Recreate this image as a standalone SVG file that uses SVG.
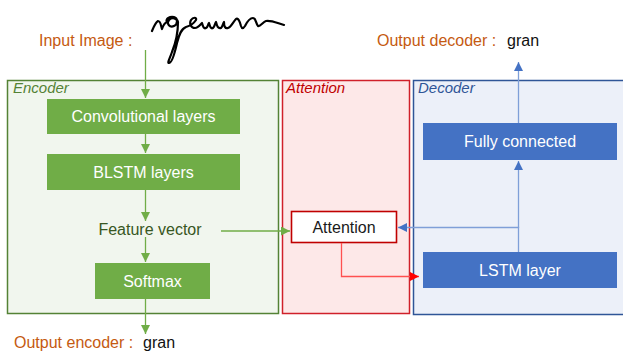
<svg xmlns="http://www.w3.org/2000/svg" width="623" height="358" viewBox="0 0 623 358">
  <defs>
    <style>
      text { font-family: "Liberation Sans", Arial, sans-serif; font-size: 16px; }
      .lbl { fill: #C55A11; }
      .val { fill: #111111; }
      .ttl { font-style: italic; font-size: 15px; }
      .wt { fill: #ffffff; text-anchor: middle; }
      .gbox { fill: #70AD47; }
      .bbox { fill: #4472C4; }
      .gline { stroke: #70AD47; stroke-width: 1.3; fill: none; }
      .bline { stroke: #7F9FD8; stroke-width: 1.3; fill: none; }
      .rline { stroke: #FF5050; stroke-width: 1.3; fill: none; }
    </style>
    <marker id="ag" viewBox="0 0 10 10" refX="10" refY="5" markerWidth="9" markerHeight="9" markerUnits="userSpaceOnUse" orient="auto">
      <path d="M0,0 L10,5 L0,10 z" fill="#70AD47"/>
    </marker>
    <marker id="ab" viewBox="0 0 10 10" refX="10" refY="5" markerWidth="9" markerHeight="9" markerUnits="userSpaceOnUse" orient="auto">
      <path d="M0,0 L10,5 L0,10 z" fill="#4472C4"/>
    </marker>
    <marker id="ar" viewBox="0 0 10 10" refX="10" refY="5" markerWidth="9" markerHeight="9" markerUnits="userSpaceOnUse" orient="auto">
      <path d="M0,0 L10,5 L0,10 z" fill="#FF0000"/>
    </marker>
  </defs>

  <rect width="623" height="358" fill="#ffffff"/>

  <!-- Panels -->
  <g id="encoder">
    <rect x="7.5" y="80.5" width="271" height="233" fill="#F1F6EE" stroke="#548235" stroke-width="1.5"/>
    <text class="ttl" x="13" y="93" fill="#548235">Encoder</text>
  </g>
  <g id="attention-panel">
    <rect x="282.5" y="80.5" width="127" height="233" fill="#FDE8E8" stroke="#D0202A" stroke-width="1.5"/>
    <text class="ttl" x="286" y="93" fill="#C00000">Attention</text>
  </g>
  <g id="decoder">
    <rect x="413.5" y="80.5" width="212" height="234" fill="#ECF0F9" stroke="#2F5597" stroke-width="1.5"/>
    <text class="ttl" x="418" y="93" fill="#2F5597">Decoder</text>
  </g>

  <!-- Input / output labels -->
  <g id="input-image">
    <text class="lbl" x="39" y="46">Input Image :</text>
    <!-- handwritten sample word -->
    <path d="M152,31 C154,26 156,22 158,21 C161,21 161,27 162,29 C163,26 164,23 167,22
             C165,19 170,16 174,17 C178,18 178,24 174,26 C170,28 166,24 169,20 C172,17 177,18 178,22
             C178,30 176,42 172,52 C170,58 167,63 169,63 C172,63 175,52 177,43 C179,35 181,29 186,27
             C190,26 194,23 196,20 C197,17 193,17 191,20 C189,24 191,28 195,28 C198,28 200,25 202,23
             C203,27 204,29 206,28 C208,27 208,24 209,23 C210,27 211,29 213,28 C215,26 215,23 216,22
             C217,26 218,29 221,28 C223,26 223,23 224,22 C224,26 225,29 228,28 C231,27 233,22 236,19
             C238,17 240,22 241,26 C242,29 243,29 245,26 C247,22 250,18 253,18 C256,18 256,24 258,26
             C260,27 263,22 266,21 C271,20 277,23 284,25"
          fill="none" stroke="#000000" stroke-width="2.2" stroke-linecap="round" stroke-linejoin="round"/>
  </g>
  <g id="output-decoder">
    <text class="lbl" x="377" y="46">Output decoder :</text>
    <text class="val" x="507" y="46">gran</text>
  </g>
  <g id="output-encoder">
    <text class="lbl" x="14" y="348">Output encoder :</text>
    <text class="val" x="143" y="348">gran</text>
  </g>

  <!-- Encoder nodes -->
  <g id="conv">
    <rect class="gbox" x="47" y="99" width="193" height="35"/>
    <text class="wt" x="143.5" y="122">Convolutional layers</text>
  </g>
  <g id="blstm">
    <rect class="gbox" x="47" y="154" width="193" height="36"/>
    <text class="wt" x="143.5" y="177.5">BLSTM layers</text>
  </g>
  <g id="feature">
    <text x="150" y="234.5" fill="#385723" text-anchor="middle">Feature vector</text>
  </g>
  <g id="softmax">
    <rect class="gbox" x="95" y="263" width="115" height="36"/>
    <text class="wt" x="152.5" y="286.5">Softmax</text>
  </g>

  <!-- Attention node -->
  <g id="attn">
    <rect x="291.5" y="211.5" width="105" height="31" fill="#ffffff" stroke="#C00000" stroke-width="1.6"/>
    <text x="344" y="233" fill="#1a1a1a" text-anchor="middle">Attention</text>
  </g>

  <!-- Decoder nodes -->
  <g id="fc">
    <rect class="bbox" x="423" y="123" width="194" height="37"/>
    <text class="wt" x="520" y="147">Fully connected</text>
  </g>
  <g id="lstm">
    <rect class="bbox" x="423" y="252" width="194" height="36"/>
    <text class="wt" x="520" y="275.5">LSTM layer</text>
  </g>

  <!-- Connectors -->
  <g id="connectors">
    <path class="gline" d="M145.5,50 V98" marker-end="url(#ag)"/>
    <path class="gline" d="M145.5,134 V153" marker-end="url(#ag)"/>
    <path class="gline" d="M145.5,190 V221" marker-end="url(#ag)"/>
    <path class="gline" d="M145.5,237 V262" marker-end="url(#ag)"/>
    <path class="gline" d="M145.5,299 V334" marker-end="url(#ag)"/>
    <path class="gline" d="M221,231 H290" marker-end="url(#ag)"/>
    <path class="rline" d="M341.5,243 V276.5 H419" marker-end="url(#ar)"/>
    <path class="bline" d="M518.5,252 V227.5 H398" marker-end="url(#ab)"/>
    <path class="bline" d="M518.5,228 V161" marker-end="url(#ab)"/>
    <path class="bline" d="M518.5,123 V62" marker-end="url(#ab)"/>
  </g>
</svg>
